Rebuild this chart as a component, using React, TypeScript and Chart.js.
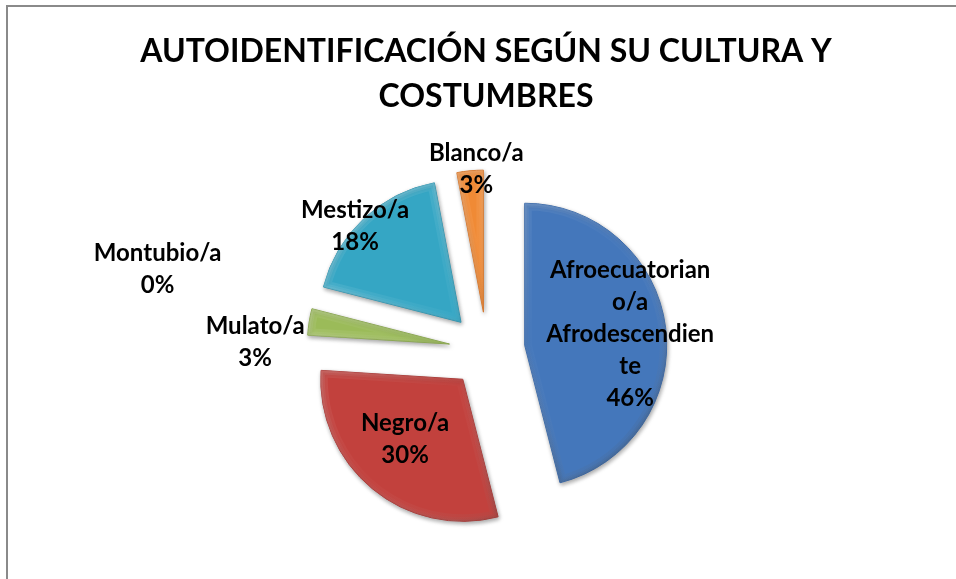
import React, { useEffect, useRef } from "react";
import { Chart, registerables } from "chart.js";

Chart.register(...registerables);

// ---- data ----
const categories = [
  "Afroecuatoriano/a Afrodescendiente",
  "Negro/a",
  "Mulato/a",
  "Montubio/a",
  "Mestizo/a",
  "Blanco/a",
];
const labelLines = [
  ["Afroecuatorian", "o/a", "Afrodescendien", "te"],
  ["Negro/a"],
  ["Mulato/a"],
  ["Montubio/a"],
  ["Mestizo/a"],
  ["Blanco/a"],
];
const values = [46, 30, 3, 0, 18, 3];
const percentLabels = ["46%", "30%", "3%", "0%", "18%", "3%"];
const titleLines = ["AUTOIDENTIFICACIÓN SEGÚN SU CULTURA Y", "COSTUMBRES"];

// ---- style ----
const colors = ["#4477BB", "#C2413D", "#9BBB59", "#8064A2", "#35A6C4", "#F08A35"];
const borderColors = ["#3A69A8", "#A83835", "#86A34B", "#6E568C", "#2D92AD", "#D4762C"];
const EXPLODE = 38;
// label placement: distance from pie center, angle nudge (deg)
const labelDist = [144, 121, 232, 339, 181, 181];
const labelNudge = [1, 3, -7, -0.7, -3.6, 2];
const FONT = "Lato, 'Open Sans', sans-serif";

function slicePath(ctx: CanvasRenderingContext2D, arc: any) {
  ctx.beginPath();
  ctx.moveTo(arc.x, arc.y);
  ctx.arc(arc.x, arc.y, arc.outerRadius, arc.startAngle, arc.endAngle);
  ctx.closePath();
}

const explodePlugin = {
  id: "explodeDraw",
  beforeDatasetDraw(chart: any, args: any) {
    const ctx = chart.ctx;
    const meta = args.meta;
    meta.data.forEach((arc: any) => {
      const mid = (arc.startAngle + arc.endAngle) / 2;
      if (arc.endAngle - arc.startAngle <= 0) return;
      ctx.save();
      ctx.translate(Math.cos(mid) * EXPLODE, Math.sin(mid) * EXPLODE);
      ctx.save();
      ctx.shadowColor = "rgba(0,0,0,0.35)";
      ctx.shadowBlur = 4;
      ctx.shadowOffsetX = 1;
      ctx.shadowOffsetY = 2;
      arc.draw(ctx, chart.chartArea);
      ctx.restore();
      // soft bevel
      ctx.save();
      slicePath(ctx, arc);
      ctx.clip();
      const r = arc.outerRadius;
      const widths = [14, 8, 4];
      widths.forEach((w) => {
        const g = ctx.createLinearGradient(arc.x - r, arc.y - r, arc.x + r, arc.y + r);
        g.addColorStop(0, "rgba(255,255,255,0.12)");
        g.addColorStop(0.5, "rgba(255,255,255,0.02)");
        g.addColorStop(1, "rgba(0,0,0,0.12)");
        ctx.strokeStyle = g;
        ctx.lineWidth = w;
        ctx.lineJoin = "round";
        slicePath(ctx, arc);
        ctx.stroke();
      });
      ctx.restore();
      ctx.restore();
    });
    return false;
  },
  afterDraw(chart: any) {
    const ctx = chart.ctx;
    ctx.save();
    ctx.fillStyle = "#000";
    ctx.textAlign = "center";
    ctx.textBaseline = "middle";
    ctx.font = `bold 32px ${FONT}`;
    ctx.fillText(titleLines[0], 486, 52);
    ctx.fillText(titleLines[1], 486, 97);

    const meta = chart.getDatasetMeta(0);
    ctx.font = `bold 24px ${FONT}`;
    const lh = 32;
    meta.data.forEach((arc: any, i: number) => {
      const mid = (arc.startAngle + arc.endAngle) / 2 + (labelNudge[i] * Math.PI) / 180;
      const cx = arc.x + Math.cos(mid) * labelDist[i];
      const cy = arc.y + Math.sin(mid) * labelDist[i];
      const lines = [...labelLines[i], percentLabels[i]];
      const top = cy - ((lines.length - 1) * lh) / 2;
      lines.forEach((t, k) => ctx.fillText(t, cx, top + k * lh));
    });
    ctx.restore();
  },
};

export default function App() {
  const ref = useRef<HTMLCanvasElement | null>(null);
  useEffect(() => {
    if (!ref.current) return;
    const chart = new Chart(ref.current, {
      type: "pie",
      data: {
        labels: categories,
        datasets: [
          {
            data: values,
            backgroundColor: colors,
            borderColor: borderColors,
            borderWidth: 1,
            radius: 142,
          } as any,
        ],
      },
      options: {
        responsive: false,
        animation: false,
        events: [],
        layout: { padding: { left: 187, right: 169, top: 150, bottom: 29 } },
        plugins: { legend: { display: false }, tooltip: { enabled: false }, title: { display: false } },
      },
      plugins: [explodePlugin],
    });
    return () => chart.destroy();
  }, []);
  return (
    <div style={{ position: "fixed", left: 0, top: 0, width: 956, height: 579, background: "#fff", overflow: "hidden" }}>
      <div
        style={{
          position: "absolute",
          left: 6,
          top: 5,
          width: 1000,
          height: 700,
          border: "2px solid #8a8a8a",
          boxSizing: "border-box",
        }}
      />
      <canvas ref={ref} width={956} height={579} style={{ position: "absolute", left: 0, top: 0 }} />
    </div>
  );
}
